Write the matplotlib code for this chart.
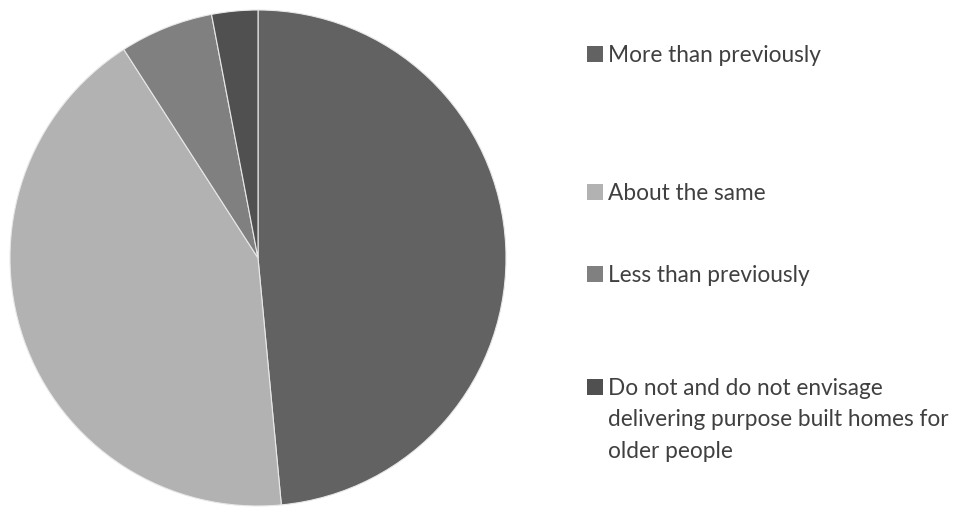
import matplotlib.pyplot as plt
from matplotlib.patches import Rectangle

labels = ["More than previously",
          "About the same",
          "Less than previously",
          "Do not and do not envisage\ndelivering purpose built homes for\nolder people"]
shares = [48.5, 42.4, 6.1, 3.0]
colors = ["#626262", "#b2b2b2", "#808080", "#505050"]

W, H = 965, 510
fig = plt.figure(figsize=(W / 100, H / 100), dpi=100)
plt.rcParams['font.family'] = ['Lato', 'DejaVu Sans']

# pie placed in pixels: centre (258, 259), radius 248
ax = fig.add_axes([10 / W, 3 / H, 496 / W, 496 / H])
ax.pie(shares, colors=colors, startangle=90, counterclock=False,
       wedgeprops=dict(edgecolor="#e8e8e8", linewidth=0.8))
ax.set_xlim(-1, 1)
ax.set_ylim(-1, 1)
ax.set_aspect("equal")
ax.axis("off")

# legend drawn by hand (y = pixel from top, centre of the marker)
legend_y = [55, 193, 275, 388]
line_gap = 31.5
for lab, col, y in zip(labels, colors, legend_y):
    fig.add_artist(Rectangle((587 / W, 1 - (y + 8) / H), 16 / W, 16 / H,
                             transform=fig.transFigure, facecolor=col,
                             edgecolor="none"))
    for i, line in enumerate(lab.split("\n")):
        base = y + 7 + i * line_gap
        fig.text(608 / W, 1 - base / H, line, fontsize=16.3, color="#404040",
                 va="baseline", ha="left")

fig.savefig("out.png", dpi=100)
